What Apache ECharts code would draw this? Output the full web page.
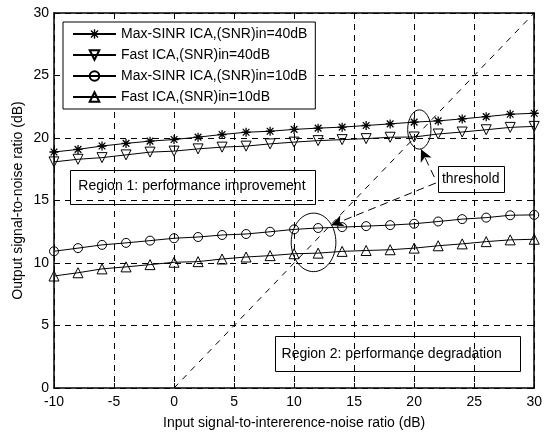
<!DOCTYPE html>
<html>
<head>
<meta charset="utf-8">
<script src="https://cdn.jsdelivr.net/npm/echarts@6/dist/echarts.min.js"></script>
<style>
  html, body { margin: 0; padding: 0; background: #fff; }
  #chart { width: 545px; height: 435px; }
</style>
</head>
<body>
<div id="chart"></div>
<script>
// Input SINR (dB), one sample every 2 dB
const inputSinr = [-10, -8, -6, -4, -2, 0, 2, 4, 6, 8, 10, 12, 14, 16, 18, 20, 22, 24, 26, 28, 30];

// Output SNR (dB) for each method / input SNR
const maxSinr40 = [18.88, 19.09, 19.36, 19.57, 19.75, 19.88, 20.07, 20.28, 20.46, 20.54, 20.69, 20.79, 20.87, 21.00, 21.13, 21.27, 21.37, 21.53, 21.71, 21.90, 21.98];
const fastIca40 = [18.09, 18.30, 18.43, 18.65, 18.87, 18.95, 19.13, 19.27, 19.35, 19.53, 19.67, 19.79, 19.87, 19.95, 20.06, 20.08, 20.32, 20.48, 20.66, 20.85, 20.93];
const maxSinr10 = [10.94, 11.19, 11.45, 11.61, 11.79, 11.98, 12.08, 12.24, 12.32, 12.50, 12.69, 12.80, 12.87, 12.95, 13.03, 13.14, 13.32, 13.51, 13.63, 13.82, 13.85];
const fastIca10 = [8.96, 9.22, 9.53, 9.69, 9.87, 10.06, 10.11, 10.32, 10.48, 10.59, 10.74, 10.79, 10.93, 11.00, 11.06, 11.19, 11.38, 11.53, 11.71, 11.85, 11.90];

const seriesNames = [
  'Max-SINR ICA,(SNR)in=40dB',
  'Fast ICA,(SNR)in=40dB',
  'Max-SINR ICA,(SNR)in=10dB',
  'Fast ICA,(SNR)in=10dB'
];

// Axis ticks
const xTickMin = -10, xTickMax = 30, xTickStep = 5;
const yTickMin = 0, yTickMax = 30, yTickStep = 5;

const FONT = "'Liberation Sans', Arial, sans-serif";
const BLACK = '#000';

// asterisk marker: vertical, horizontal and two diagonal bars
const STAR = 'path://M43 0L57 0L57 100L43 100Z M0 43L100 43L100 57L0 57Z M8 18L18 8L92 82L82 92Z M82 8L92 18L18 92L8 82Z';

const pairs = ys => inputSinr.map((x, i) => [x, ys[i]]);

const hollow = { color: 'rgba(0,0,0,0)', borderColor: BLACK, borderWidth: 1 };

function curve(name, ys, symbol, size, itemStyle, rotate) {
  return {
    name, type: 'line', data: pairs(ys),
    symbol, symbolSize: size, symbolRotate: rotate || 0,
    showAllSymbol: true,
    lineStyle: { color: BLACK, width: 1 },
    itemStyle,
    emphasis: { disabled: true },
    z: 5
  };
}

const chart = echarts.init(document.getElementById('chart'), null, { renderer: 'canvas' });

const axisLineStyle = { color: BLACK, width: 1.5 };
const gridDash = { color: BLACK, width: 1, type: [6, 5] };

chart.setOption({
  animation: false,
  backgroundColor: '#fff',
  textStyle: { fontFamily: FONT },
  grid: { left: 54, right: 8, top: 13, bottom: 41, containLabel: false },
  legend: {
    data: seriesNames,
    orient: 'vertical',
    left: 63, top: 22,
    padding: [5, 8, 5, 9],
    itemWidth: 43, itemHeight: 12, itemGap: 7,
    backgroundColor: '#fff',
    borderColor: BLACK, borderWidth: 1, borderRadius: 0,
    textStyle: { color: BLACK, fontSize: 14, fontFamily: FONT },
    selectedMode: false
  },
  xAxis: [{
    type: 'value', min: xTickMin, max: xTickMax, interval: xTickStep, position: 'bottom',
    axisLine: { show: true, onZero: false, lineStyle: axisLineStyle },
    axisTick: { show: true, inside: true, length: 5, lineStyle: { color: BLACK } },
    axisLabel: { color: BLACK, fontSize: 14, fontFamily: FONT, margin: 7 },
    splitLine: { show: true, lineStyle: gridDash },
    name: 'Input signal-to-intererence-noise ratio (dB)',
    nameLocation: 'middle', nameGap: 28,
    nameTextStyle: { color: BLACK, fontSize: 14, fontFamily: FONT }
  }, {
    type: 'value', min: xTickMin, max: xTickMax, interval: xTickStep, position: 'top',
    axisLine: { show: true, onZero: false, lineStyle: axisLineStyle },
    axisTick: { show: true, inside: true, length: 5, lineStyle: { color: BLACK } },
    axisLabel: { show: false }, splitLine: { show: false }
  }],
  yAxis: [{
    type: 'value', min: yTickMin, max: yTickMax, interval: yTickStep, position: 'left',
    axisLine: { show: true, onZero: false, lineStyle: axisLineStyle },
    axisTick: { show: true, inside: true, length: 5, lineStyle: { color: BLACK } },
    axisLabel: { color: BLACK, fontSize: 14, fontFamily: FONT, margin: 5 },
    splitLine: { show: true, lineStyle: gridDash },
    name: 'Output signal-to-noise ratio (dB)',
    nameLocation: 'middle', nameGap: 29, nameMoveOverlap: false,
    nameTextStyle: { color: BLACK, fontSize: 14, fontFamily: FONT }
  }, {
    type: 'value', min: yTickMin, max: yTickMax, interval: yTickStep, position: 'right',
    axisLine: { show: true, onZero: false, lineStyle: axisLineStyle },
    axisTick: { show: true, inside: true, length: 5, lineStyle: { color: BLACK } },
    axisLabel: { show: false }, splitLine: { show: false }
  }],
  series: [
    curve(seriesNames[0], maxSinr40, STAR, 9, { color: BLACK, borderWidth: 0 }),
    curve(seriesNames[1], fastIca40, 'triangle', 10, hollow, 180),
    curve(seriesNames[2], maxSinr10, 'circle', 9, hollow),
    curve(seriesNames[3], fastIca10, 'triangle', 10, hollow),
    {
      // reference line: output = input, plus the two threshold pointers
      name: 'output = input', type: 'line',
      data: [[0, 0], [30, 30]],
      symbol: 'none',
      lineStyle: { color: BLACK, width: 1, type: [6, 6] },
      emphasis: { disabled: true },
      z: 3,
      markLine: {
        silent: true,
        symbol: ['none', 'arrow'],
        symbolSize: [9, 12],
        label: { show: false },
        lineStyle: { color: BLACK, width: 1, type: [8, 5] },
        itemStyle: { color: BLACK },
        emphasis: { disabled: true },
        data: [
          [{ coord: [21.68, 16.87] }, { coord: [20.57, 19.1] }],
          [{ coord: [21.81, 16.4] }, { coord: [13.11, 13.02] }]
        ]
      }
    }
  ]
});

// Annotation boxes and ellipses, placed in data units
const boxes = [
  { text: 'Region 1: performance improvement', from: [-8.64, 17.45], to: [11.79, 14.77], align: 'left', pad: 8 },
  { text: 'threshold', from: [21.95, 17.75], to: [27.47, 15.7], align: 'center', pad: 0 },
  { text: 'Region 2: performance degradation', from: [8.37, 4.14], to: [28.8, 1.34], align: 'left', pad: 7 }
];
const ellipses = [
  { center: [20.43, 20.68], rx: 0.97, ry: 1.57 },
  { center: [11.62, 11.65], rx: 1.86, ry: 2.34 }
];

const toPx = pt => chart.convertToPixel({ xAxisIndex: 0, yAxisIndex: 0 }, pt);

const graphics = [];
boxes.forEach(b => {
  const p1 = toPx(b.from), p2 = toPx(b.to);
  const x = Math.min(p1[0], p2[0]), y = Math.min(p1[1], p2[1]);
  const w = Math.abs(p2[0] - p1[0]), h = Math.abs(p2[1] - p1[1]);
  graphics.push({
    type: 'rect', silent: true, z: 20,
    shape: { x: Math.round(x) + 0.5, y: Math.round(y) + 0.5, width: Math.round(w), height: Math.round(h) },
    style: { fill: 'none', stroke: BLACK, lineWidth: 1 }
  });
  graphics.push({
    type: 'text', silent: true, z: 21,
    x: b.align === 'center' ? x + w / 2 : x + b.pad,
    y: y + h / 2,
    style: {
      text: b.text, fill: BLACK, fontSize: 14, fontFamily: FONT,
      align: b.align, verticalAlign: 'middle'
    }
  });
});
ellipses.forEach(e => {
  const c = toPx(e.center);
  const r = toPx([e.center[0] + e.rx, e.center[1] + e.ry]);
  graphics.push({
    type: 'ellipse', silent: true, z: 20,
    shape: { cx: c[0], cy: c[1], rx: Math.abs(r[0] - c[0]), ry: Math.abs(r[1] - c[1]) },
    style: { fill: 'none', stroke: BLACK, lineWidth: 1 }
  });
});
chart.setOption({ graphic: graphics });
</script>
</body>
</html>
